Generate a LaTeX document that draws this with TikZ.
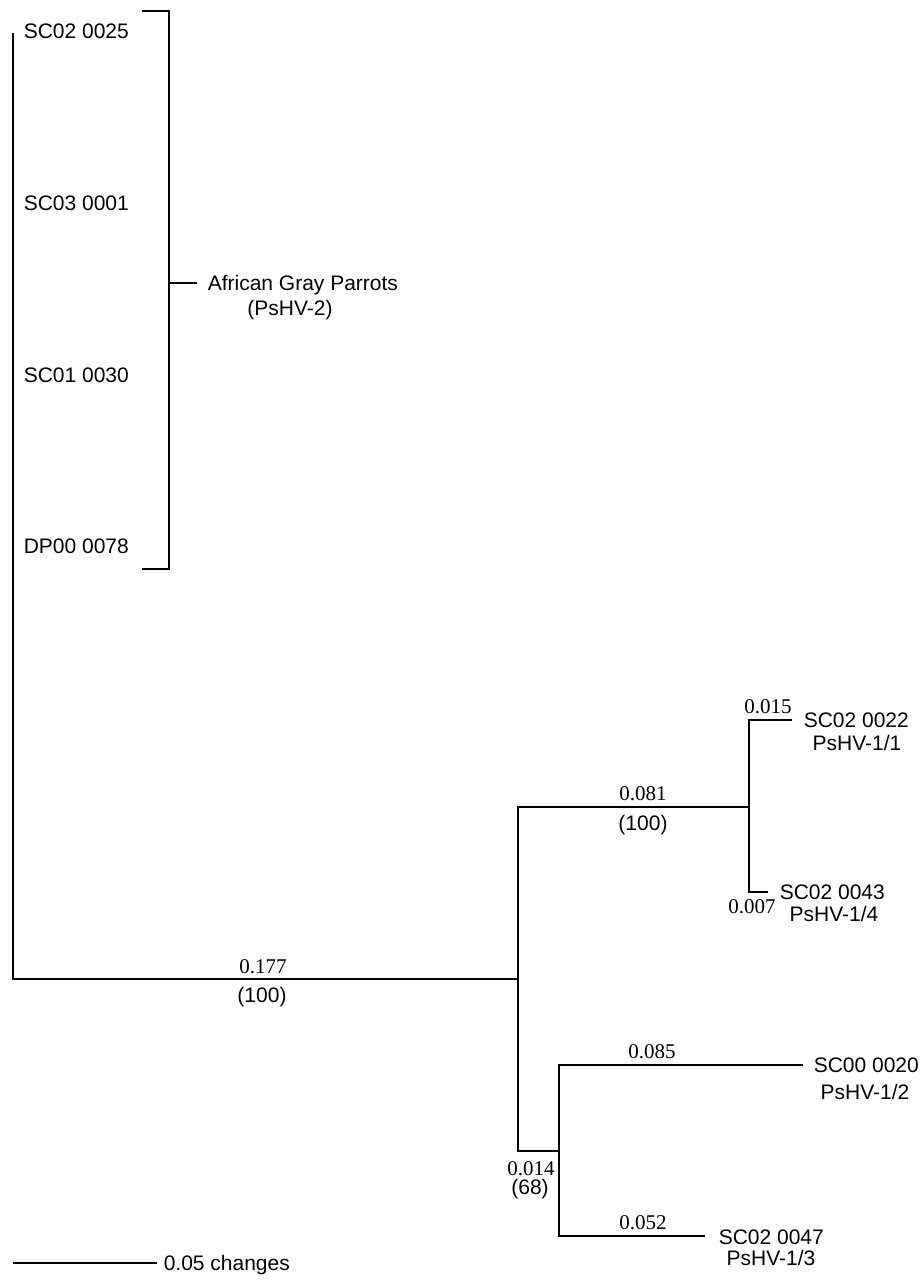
\documentclass[tikz,border=0pt]{standalone}
\usepackage{fontspec}
\setmainfont{Liberation Sans}
\newfontfamily\serifnum{Liberation Serif}
\begin{document}
\begin{tikzpicture}[x=1pt,y=-1pt,line width=1.5pt,line join=miter,
  every node/.style={inner sep=0pt,font=\fontsize{21}{23}\selectfont},
  taxon/.style={anchor=base west},
  sub/.style={anchor=base},
  num/.style={anchor=base,font=\serifnum\fontsize{21}{23}\selectfont}]
\useasboundingbox (0,0) rectangle (923,1280);
% tree coordinates
\coordinate (topL) at (13,33);
\coordinate (root) at (13,979);
\coordinate (n1) at (518,979);
\coordinate (n1a) at (518,807);
\coordinate (n1b) at (518,1151);
\coordinate (n2) at (749,807);
\coordinate (n2a) at (749,720);
\coordinate (n2b) at (749,892);
\coordinate (t1) at (792,720);
\coordinate (t4) at (768,892);
\coordinate (n3) at (559,1151);
\coordinate (n3a) at (559,1065);
\coordinate (n3b) at (559,1236);
\coordinate (t2) at (803,1065);
\coordinate (t3) at (705,1236);
% bracket
\coordinate (b1) at (142,11);
\coordinate (b2) at (169,11);
\coordinate (b3) at (169,569);
\coordinate (b4) at (142,569);
\coordinate (bm) at (169,283);
\coordinate (bt) at (197,283);
% scale bar
\coordinate (s1) at (13,1263);
\coordinate (s2) at (157,1263);

\draw (topL) -- (root) -- (n1);
\draw (n2) -- (n1a) -- (n1b) -- (n3);
\draw (t1) -- (n2a) -- (n2b) -- (t4);
\draw (t2) -- (n3a) -- (n3b) -- (t3);
\draw (b1) -- (b2) -- (b3) -- (b4);
\draw (bm) -- (bt);
\draw (s1) -- (s2);

% left taxa
\node[taxon] (a1) at (23,38.5) {SC02 0025};
\node[taxon] (a2) at (23,210.5) {SC03 0001};
\node[taxon] (a3) at (23,382.5) {SC01 0030};
\node[taxon] (a4) at (23,553.5) {DP00 0078};
\node[taxon] (agp) at (207,290.5) {African Gray Parrots};
\node[sub] (agp2) at (290,315) {(PsHV-2)};

% right taxa
\node[taxon] (l1a) at (803,727.5) {SC02 0022};
\node[sub] (l1b) at (857,750.5) {PsHV-1/1};
\node[taxon] (l4a) at (779,899.5) {SC02 0043};
\node[sub] (l4b) at (834,921.5) {PsHV-1/4};
\node[taxon] (l2a) at (813,1072.5) {SC00 0020};
\node[sub] (l2b) at (865,1099.5) {PsHV-1/2};
\node[taxon] (l3a) at (718,1244.5) {SC02 0047};
\node[sub] (l3b) at (771,1265.5) {PsHV-1/3};

% branch lengths and support
\node[num] (v177) at (263,973) {0.177};
\node[sub] (s177) at (262,1002.5) {(100)};
\node[num] (v081) at (643,800) {0.081};
\node[sub] (s081) at (643,830) {(100)};
\node[num] (v015) at (768,713) {0.015};
\node[num] (v007) at (752,913) {0.007};
\node[num] (v085) at (652,1058) {0.085};
\node[num] (v052) at (643,1229) {0.052};
\node[num] (v014) at (531,1175) {0.014};
\node[sub] (s014) at (530,1194.5) {(68)};

% scale
\node[taxon] (scl) at (163,1270.5) {0.05 changes};
\end{tikzpicture}
\end{document}
